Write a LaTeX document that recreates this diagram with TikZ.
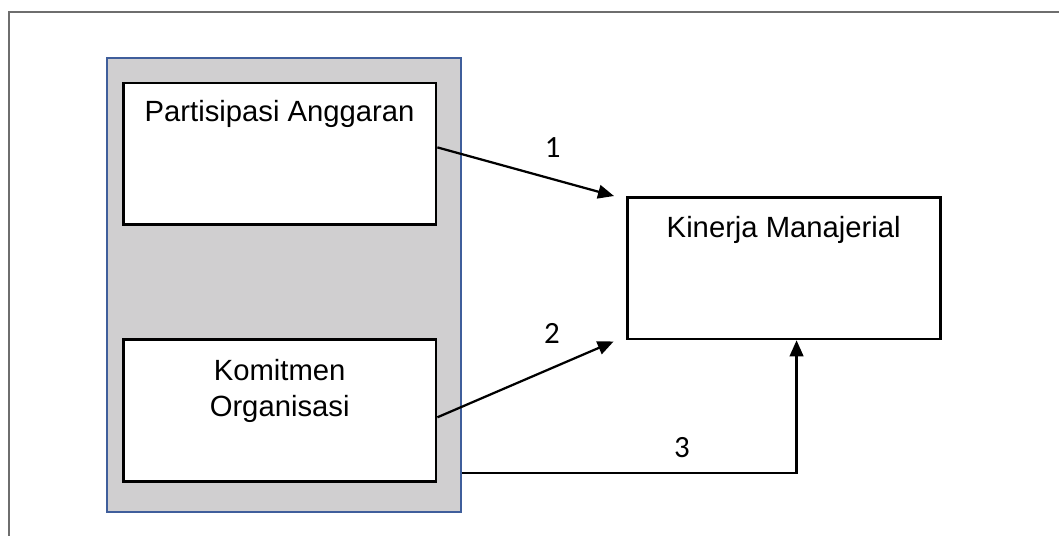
\documentclass[tikz,border=0pt]{standalone}
\usepackage{fontspec}
\setmainfont{Liberation Sans}
\newfontfamily\numfont{Carlito}
\usetikzlibrary{calc,arrows.meta,positioning}
\definecolor{framec}{HTML}{6E6E6E}
\definecolor{groupc}{HTML}{3F5E9B}
\definecolor{groupbg}{HTML}{D0CFD0}
\tikzset{
  ar/.style={-{Triangle[length=4mm,width=3.4mm]},line width=1.6pt},
  box/.style={draw,line width=1.9pt,fill=white,minimum width=7.82cm,minimum height=3.54cm,inner sep=0pt},
  txt/.style={font=\fontsize{20.8}{25.6}\selectfont,align=center,inner sep=0pt},
  num/.style={font=\numfont\fontsize{22}{24}\selectfont,inner sep=0pt}
}
\begin{document}
\begin{tikzpicture}
\useasboundingbox (0,0) rectangle (26.475,-13.4);
% open frame
\draw[framec,line width=1.2pt] (0.225,-13.4) -- (0.225,-0.3) -- (26.475,-0.3);
% grey group and boxes
\node[draw=groupc,line width=1.5pt,fill=groupbg,minimum width=8.835cm,minimum height=11.335cm,inner sep=0pt] (grp) at (7.1,-7.125) {};
\node[box] (pa) at (6.991,-3.845) {};
\node[box] (ko) at (6.991,-10.2625) {};
\node[box] (km) at (19.594,-6.704) {};
\node[txt,below=0.47cm of pa.north] (tpa) {Partisipasi Anggaran};
\node[txt,below=0.52cm of ko.north] (tko) {Komitmen\\Organisasi};
\node[txt,below=0.5cm of km.north] (tkm) {Kinerja Manajerial};
% arrow ends
\coordinate (e1) at ($(km.north west)+(-0.3,0)$);
\coordinate (e2) at ($(km.south west)+(-0.31,-0.03)$);
\draw[ar] ($(pa.east)+(0,0.16)$) -- (e1);
\draw[ar] ($(ko.east)+(0,-0.17)$) -- (e2);
\draw[ar] ($(grp.south east)+(0,1.0)$) -| ($(km.south)+(0.32,0)$);
% path numbers
\node[num] (n1) at (13.82,-3.7) {1};
\node[num] (n2) at (13.8,-8.325) {2};
\node[num] (n3) at (17.05,-11.2) {3};
\end{tikzpicture}
\end{document}
